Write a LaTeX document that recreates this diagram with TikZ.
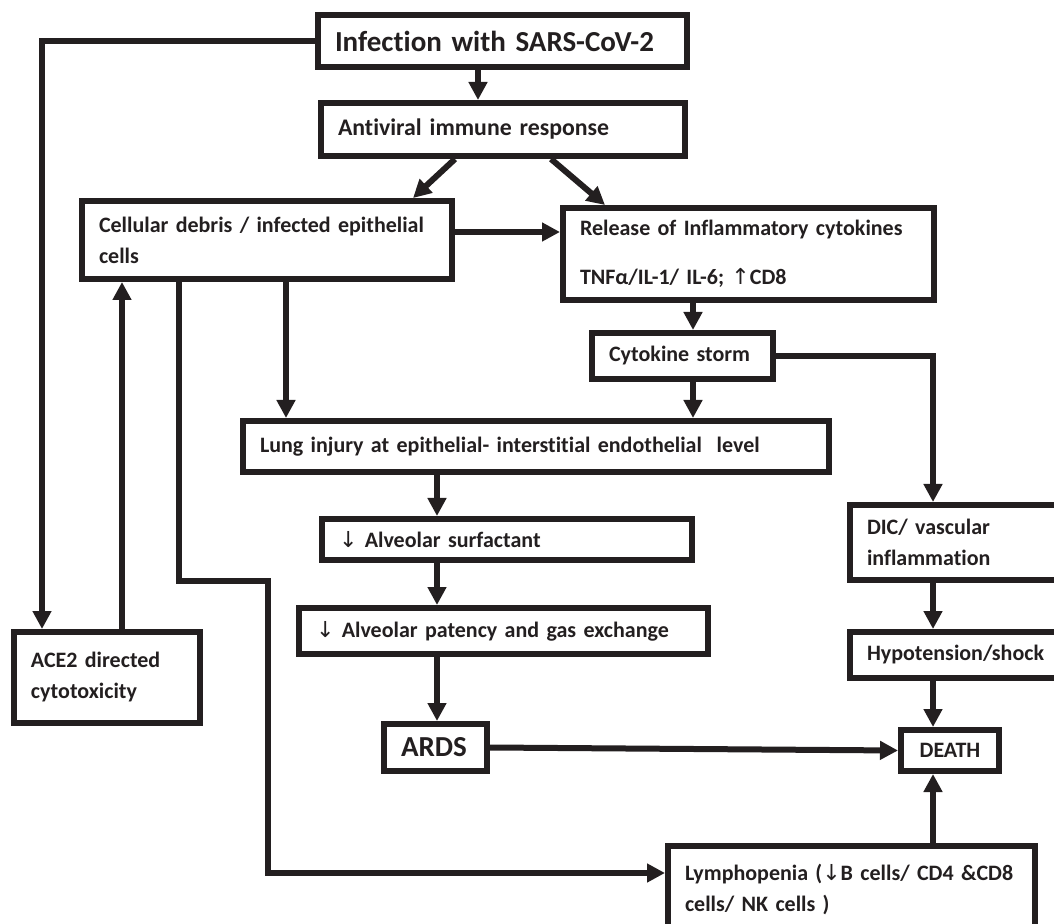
\documentclass[tikz,border=0pt]{standalone}
\usepackage{fontspec}
\setmainfont{Carlito}[Ligatures=NoCommon]
\newfontfamily\arrowfont{DejaVu Sans}
\usetikzlibrary{arrows.meta}
\definecolor{ink}{HTML}{231F20}
\newcommand{\arrdn}{{\arrowfont\mdseries ↓}}
\newcommand{\arrup}{{\arrowfont\mdseries ↑}}
\tikzstyle{process} =[rectangle, draw=ink, line width=3pt, fill=white, inner xsep=8.5pt, align=left, text=ink, font=\bfseries\fontsize{11pt}{15.5pt}\selectfont]
\tikzstyle{midtext} =[font=\bfseries\fontsize{11.9pt}{15.5pt}\selectfont]
\tikzstyle{bigtext} =[font=\bfseries\fontsize{14.5pt}{17pt}\selectfont]
\tikzstyle{arrow} =[draw=ink, line width=3pt, ->, >={Triangle[length=9pt, width=9pt]}]

\begin{document}
\begin{tikzpicture}[x=0.5pt, y=-0.5pt]
\useasboundingbox (0,0) rectangle (1054,924);
% boxes
\node (infect) [process, bigtext, minimum width=184.5pt, minimum height=26pt, text width=167.5pt] at (502.5,41) {Infection with SARS-CoV-2};
\node (anti) [process, midtext, minimum width=182pt, minimum height=26.5pt, text width=165pt] at (503,129.5) {Antiviral immune response};
\node (cell) [process, minimum width=185pt, minimum height=39pt, text width=168pt] at (267,240) {Cellular debris / infected epithelial\\cells};
\node (rel) [process, minimum width=185.5pt, minimum height=46pt, text width=168.5pt] at (748.5,254) {Release of Inflammatory cytokines\\[9pt]TNFα/IL-1/ IL-6; \arrup CD8};
\node (cyto) [process, minimum width=90.5pt, minimum height=23pt, text width=73.5pt] at (682.5,356) {Cytokine storm};
\node (lung) [process, minimum width=293pt, minimum height=25.5pt, text width=276pt] at (536,446.5) {Lung injury at epithelial- interstitial endothelial\ \ level};
\node (surf) [process, minimum width=185pt, minimum height=20.5pt, text width=168pt] at (507,539.5) {\arrdn\ Alveolar surfactant};
\node (pat) [process, minimum width=204.5pt, minimum height=23pt, text width=187.5pt] at (503.5,631) {\arrdn\ Alveolar patency and gas exchange};
\node (ards) [process, bigtext, minimum width=51.5pt, minimum height=23.5pt, text width=34.5pt] at (435.5,747.5) {ARDS};
\node (ace) [process, minimum width=93pt, minimum height=45.5pt, text width=76pt] at (107,677.5) {ACE2 directed\\cytotoxicity};
\node (dic) [process, minimum width=113.5pt, minimum height=37.5pt, text width=96.5pt] at (963.5,542.5) {DIC/ vascular\\inflammation};
\node (hypo) [process, minimum width=113.5pt, minimum height=23pt, text width=96.5pt] at (963.5,655) {Hypotension/shock};
\node (death) [process, minimum width=49pt, minimum height=20.5pt, align=center] at (950,750.5) {DEATH};
\node (lymph) [process, minimum width=183.5pt, minimum height=43pt, text width=166.5pt] at (851.5,889) {Lymphopenia (\arrdn B cells/ CD4 \&CD8\\cells/ NK cells )};

% columns of the vertical connectors
\coordinate (colA) at (42,0);
\coordinate (colB) at (122,0);
\coordinate (colC) at (179,0);
\coordinate (colE) at (286,0);
\coordinate (colF) at (437,0);
\coordinate (colI) at (478,0);
\coordinate (colG) at (693,0);
\coordinate (colH) at (933,0);
\coordinate (jog) at (268,581);
\coordinate (lymin) at (268,873);

\draw [arrow] (infect.west) -| (colA |- ace.north);
\draw [arrow] (colI |- infect.south) -- (colI |- anti.north);
\draw [arrow] ([xshift=-24pt]anti.south) -- ([xshift=73pt]cell.north);
\draw [arrow] ([xshift=24pt]anti.south) -- ([xshift=-71.75pt]rel.north);
\draw [arrow] ([yshift=4pt]cell.east) -- ([yshift=4pt]cell.east -| rel.west);
\draw [arrow] (colG |- rel.south) -- (colG |- cyto.north);
\draw [arrow] (colG |- cyto.south) -- (colG |- lung.north);
\draw [arrow] (cyto.east) -| (colH |- dic.north);
\draw [arrow] (colE |- cell.south) -- (colE |- lung.north);
\draw [arrow] (colF |- lung.south) -- (colF |- surf.north);
\draw [arrow] (colF |- surf.south) -- (colF |- pat.north);
\draw [arrow] (colF |- pat.south) -- (colF |- ards.north);
\draw [arrow] (ards.east) -- (death.west);
\draw [arrow] (colH |- dic.south) -- (colH |- hypo.north);
\draw [arrow] (colH |- hypo.south) -- (colH |- death.north);
\draw [arrow] (colH |- lymph.north) -- (colH |- death.south);
\draw [arrow] (colB |- ace.north) -- (colB |- cell.south);
\draw [arrow] (colC |- cell.south) |- (jog) -- (lymin) -- (lymin -| lymph.west);
\end{tikzpicture}
\end{document}
